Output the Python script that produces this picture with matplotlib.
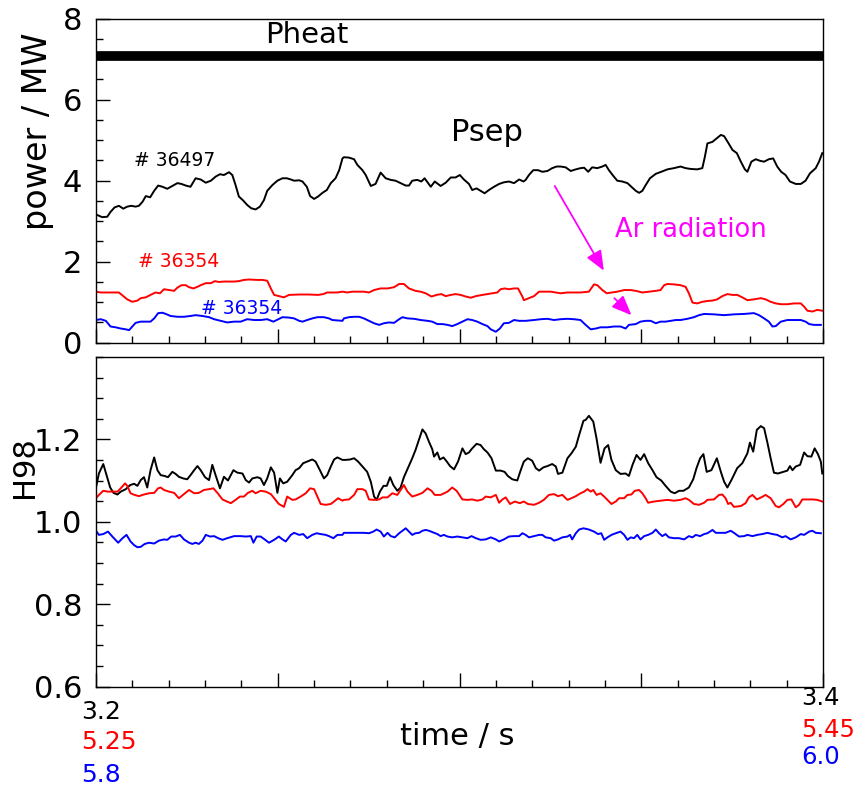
"""Psep and H98 for three shots, two stacked panels."""

import matplotlib

matplotlib.use("Agg")
import matplotlib.pyplot as plt
import numpy as np
from matplotlib.ticker import MultipleLocator

# time is given in ms from the start of each shot's 200 ms window
windows = {"36497": ("3.2", "3.4"), "36354a": ("5.25", "5.45"), "36354b": ("5.8", "6.0")}
colors = ["black", "red", "blue"]
pheat_level = 7.08

psep_black = [
    (0.4, 3.15), (1.7, 3.10), (3.1, 3.11), (4.0, 3.23), (5.1, 3.34), (6.3, 3.38), (7.5, 3.31), (8.6, 3.36),
    (9.7, 3.38), (10.9, 3.36), (11.8, 3.38), (12.8, 3.48), (13.7, 3.62), (14.9, 3.59), (16.0, 3.75), (17.1, 3.88),
    (18.3, 3.85), (19.6, 3.80), (21.0, 3.87), (22.4, 3.94), (23.5, 3.92), (24.7, 3.88), (26.0, 3.85), (27.4, 4.06),
    (28.8, 4.03), (30.2, 3.95), (31.6, 4.00), (32.9, 4.10), (34.1, 4.16), (35.2, 4.14), (36.6, 4.21), (37.5, 4.14),
    (38.4, 3.89), (39.3, 3.61), (40.5, 3.51), (41.6, 3.40), (42.7, 3.32), (43.9, 3.29), (45.1, 3.36), (46.2, 3.52),
    (47.1, 3.75), (48.5, 3.89), (49.9, 4.00), (51.3, 4.06), (52.5, 4.06), (53.6, 4.03), (54.5, 4.00), (55.9, 4.01),
    (56.8, 3.98), (58.0, 3.85), (58.9, 3.62), (60.0, 3.55), (61.1, 3.61), (62.3, 3.70), (63.5, 3.77), (64.6, 3.94),
    (65.9, 4.06), (66.9, 4.26), (67.8, 4.55), (68.2, 4.58), (69.6, 4.57), (71.0, 4.53), (71.9, 4.39), (73.3, 4.26),
    (74.2, 4.14), (75.6, 3.87), (76.9, 3.92), (78.3, 4.20), (79.7, 4.06), (81.1, 4.02), (82.4, 4.00), (83.8, 3.94),
    (85.2, 3.88), (86.1, 3.88), (87.0, 4.00), (88.4, 4.02), (89.5, 3.98), (90.4, 4.06), (92.1, 3.85), (93.2, 3.98),
    (94.8, 3.87), (96.2, 3.95), (97.6, 4.08), (98.9, 4.08), (100.1, 4.14), (101.2, 4.03), (102.6, 3.92), (103.5, 3.77),
    (104.7, 3.81), (105.8, 3.75), (106.9, 3.69), (108.1, 3.77), (109.5, 3.85), (110.9, 3.92), (112.2, 3.96),
    (113.6, 3.98), (115.0, 3.94), (116.4, 4.03), (117.6, 3.98), (118.2, 4.02), (119.1, 4.14), (120.3, 4.26),
    (121.6, 4.26), (122.8, 4.22), (124.2, 4.24), (125.5, 4.31), (126.7, 4.35), (127.8, 4.35), (129.2, 4.33),
    (130.6, 4.24), (132.0, 4.28), (133.3, 4.31), (134.3, 4.32), (135.4, 4.22), (136.5, 4.33), (137.9, 4.31),
    (139.3, 4.35), (140.2, 4.39), (141.1, 4.26), (142.3, 4.12), (143.4, 4.00), (144.8, 3.98), (146.2, 3.94),
    (147.3, 3.85), (148.5, 3.75), (149.4, 3.70), (150.3, 3.75), (151.2, 3.89), (152.4, 4.06), (154.0, 4.17),
    (155.5, 4.22), (157.2, 4.28), (159.0, 4.31), (160.8, 4.35), (162.2, 4.31), (163.6, 4.29), (165.4, 4.28),
    (166.8, 4.31), (167.5, 4.59), (168.2, 4.92), (169.6, 4.96), (170.8, 5.05), (171.9, 5.13), (172.8, 5.10),
    (173.9, 4.94), (175.1, 4.76), (176.3, 4.68), (177.4, 4.47), (178.5, 4.28), (179.2, 4.22), (180.3, 4.47),
    (181.5, 4.53), (182.7, 4.49), (183.8, 4.47), (185.1, 4.53), (186.3, 4.55), (187.4, 4.35), (188.5, 4.22),
    (189.7, 4.14), (190.9, 3.98), (192.5, 3.92), (193.9, 3.92), (195.2, 4.00), (196.4, 4.18), (198.0, 4.31),
    (198.9, 4.47), (199.8, 4.68),
]

psep_red = [
    (0.0, 1.26), (1.3, 1.24), (3.1, 1.24), (5.0, 1.24), (6.3, 1.24), (7.5, 1.15), (8.6, 1.07), (10.0, 1.01),
    (11.4, 1.04), (12.3, 1.10), (13.7, 1.12), (15.0, 1.18), (16.4, 1.24), (17.6, 1.22), (18.7, 1.32), (20.1, 1.30),
    (21.5, 1.28), (22.4, 1.36), (23.5, 1.42), (24.7, 1.42), (25.6, 1.37), (26.8, 1.34), (27.9, 1.38), (28.8, 1.42),
    (30.2, 1.47), (31.6, 1.47), (32.7, 1.52), (33.8, 1.50), (35.2, 1.51), (38.0, 1.51), (39.3, 1.52), (40.7, 1.55),
    (42.1, 1.56), (44.4, 1.55), (45.8, 1.55), (47.1, 1.53), (48.1, 1.34), (49.0, 1.18), (50.3, 1.15), (51.7, 1.12),
    (53.1, 1.18), (55.9, 1.19), (58.6, 1.19), (61.1, 1.18), (62.5, 1.20), (63.6, 1.24), (66.4, 1.24), (67.8, 1.26),
    (69.1, 1.24), (70.5, 1.26), (71.9, 1.26), (73.7, 1.26), (75.1, 1.24), (76.5, 1.30), (78.3, 1.34), (80.2, 1.34),
    (82.0, 1.37), (83.4, 1.45), (84.7, 1.45), (86.1, 1.34), (87.9, 1.28), (89.3, 1.26), (90.7, 1.22), (92.3, 1.14),
    (93.7, 1.18), (95.0, 1.20), (96.2, 1.15), (97.6, 1.18), (98.9, 1.20), (100.3, 1.18), (101.7, 1.14),
    (103.1, 1.11), (104.5, 1.15), (106.3, 1.18), (107.7, 1.20), (109.0, 1.22), (110.4, 1.24), (111.3, 1.32),
    (112.4, 1.34), (113.6, 1.32), (115.0, 1.34), (116.1, 1.34), (117.3, 1.14), (117.7, 1.05), (119.1, 1.10),
    (120.5, 1.15), (121.9, 1.26), (123.2, 1.26), (125.1, 1.26), (126.5, 1.24), (127.8, 1.22), (129.7, 1.24),
    (131.5, 1.24), (133.3, 1.24), (135.6, 1.26), (137.0, 1.44), (137.9, 1.42), (139.3, 1.30), (140.5, 1.22),
    (142.0, 1.24), (143.4, 1.26), (145.3, 1.30), (147.1, 1.30), (148.5, 1.28), (150.3, 1.24), (152.1, 1.26),
    (154.0, 1.28), (155.3, 1.30), (156.3, 1.42), (157.2, 1.45), (159.0, 1.44), (160.8, 1.42), (162.2, 1.38),
    (163.1, 1.22), (164.1, 0.99), (165.4, 0.97), (166.8, 1.01), (168.2, 1.03), (169.6, 1.04), (170.9, 1.07),
    (172.3, 1.15), (173.7, 1.20), (175.1, 1.18), (176.4, 1.18), (177.8, 1.12), (179.2, 1.05), (181.0, 1.07),
    (182.9, 1.10), (184.2, 1.07), (185.6, 1.01), (187.0, 0.97), (188.4, 0.95), (190.2, 0.95), (192.0, 0.97),
    (193.9, 0.97), (194.8, 0.89), (195.7, 0.79), (197.1, 0.77), (198.4, 0.81), (199.8, 0.79),
]

psep_blue = [
    (0.0, 0.56), (1.3, 0.58), (2.7, 0.54), (4.0, 0.40), (5.4, 0.38), (6.8, 0.35), (8.2, 0.33), (9.1, 0.31),
    (10.0, 0.40), (10.9, 0.49), (12.3, 0.52), (15.0, 0.52), (16.0, 0.60), (17.1, 0.73), (18.3, 0.74), (19.2, 0.71),
    (20.5, 0.66), (22.4, 0.64), (24.2, 0.64), (26.0, 0.66), (27.4, 0.68), (29.3, 0.66), (31.1, 0.63), (32.5, 0.58),
    (34.3, 0.54), (36.1, 0.50), (38.0, 0.52), (39.8, 0.52), (41.6, 0.58), (43.5, 0.56), (45.3, 0.56), (47.1, 0.58),
    (48.8, 0.52), (49.7, 0.56), (51.3, 0.63), (53.1, 0.62), (54.5, 0.60), (55.9, 0.54), (56.8, 0.52), (58.1, 0.56),
    (59.5, 0.60), (60.9, 0.63), (62.7, 0.63), (64.1, 0.60), (65.0, 0.56), (67.8, 0.54), (68.2, 0.60), (69.6, 0.63),
    (71.0, 0.64), (72.4, 0.64), (73.7, 0.60), (75.1, 0.54), (76.5, 0.48), (77.9, 0.44), (79.2, 0.48), (80.6, 0.50),
    (82.0, 0.49), (83.4, 0.58), (84.3, 0.63), (85.7, 0.60), (87.5, 0.59), (89.3, 0.56), (91.2, 0.54), (92.5, 0.52),
    (93.9, 0.46), (95.3, 0.46), (96.7, 0.44), (98.0, 0.41), (99.4, 0.46), (100.8, 0.52), (102.2, 0.58),
    (103.5, 0.56), (104.9, 0.52), (106.3, 0.46), (107.7, 0.41), (108.6, 0.33), (110.0, 0.27), (111.1, 0.35),
    (112.2, 0.48), (113.6, 0.49), (115.0, 0.56), (116.4, 0.54), (118.2, 0.54), (120.5, 0.56), (122.3, 0.58),
    (124.2, 0.59), (126.0, 0.56), (127.8, 0.58), (129.7, 0.59), (131.5, 0.58), (133.3, 0.56), (134.7, 0.44),
    (136.1, 0.33), (137.5, 0.35), (138.8, 0.38), (140.7, 0.38), (142.5, 0.40), (144.3, 0.40), (145.7, 0.35),
    (146.6, 0.44), (148.5, 0.46), (149.8, 0.52), (151.2, 0.54), (152.6, 0.54), (154.0, 0.48), (155.3, 0.52),
    (156.7, 0.52), (158.1, 0.54), (159.5, 0.56), (160.8, 0.56), (162.7, 0.59), (164.5, 0.63), (165.9, 0.68),
    (167.3, 0.71), (170.0, 0.70), (172.8, 0.68), (175.5, 0.70), (178.3, 0.71), (181.0, 0.73), (182.4, 0.68),
    (183.8, 0.60), (185.1, 0.52), (186.1, 0.40), (187.0, 0.41), (188.4, 0.52), (190.2, 0.56), (192.0, 0.56),
    (193.9, 0.56), (195.2, 0.52), (196.2, 0.46), (197.5, 0.44), (199.4, 0.44),
]

h98_black = [
    (0.0, 1.083), (0.8, 1.117), (2.0, 1.140), (2.9, 1.113), (3.9, 1.083), (4.8, 1.070), (5.9, 1.066), (6.8, 1.073),
    (8.2, 1.079), (9.4, 1.089), (10.5, 1.092), (11.4, 1.087), (12.3, 1.101), (13.2, 1.108), (14.1, 1.083),
    (15.0, 1.125), (16.0, 1.156), (16.9, 1.125), (17.8, 1.113), (18.9, 1.111), (19.8, 1.108), (21.0, 1.121),
    (21.9, 1.116), (22.8, 1.109), (24.0, 1.105), (25.1, 1.103), (26.0, 1.113), (27.0, 1.125), (27.9, 1.135),
    (28.8, 1.125), (30.0, 1.108), (31.1, 1.101), (32.0, 1.138), (32.9, 1.113), (34.1, 1.081), (35.2, 1.109),
    (36.3, 1.100), (37.8, 1.125), (38.9, 1.119), (40.3, 1.117), (41.2, 1.101), (42.1, 1.095), (43.0, 1.105),
    (44.4, 1.108), (45.3, 1.105), (46.2, 1.089), (47.1, 1.105), (48.1, 1.132), (49.0, 1.119), (49.9, 1.070),
    (50.6, 1.105), (51.5, 1.093), (52.6, 1.097), (54.0, 1.113), (54.9, 1.125), (55.9, 1.130), (57.0, 1.142),
    (58.1, 1.146), (59.5, 1.151), (60.4, 1.146), (61.6, 1.125), (62.7, 1.105), (63.6, 1.113), (64.6, 1.134),
    (65.5, 1.151), (66.4, 1.156), (67.8, 1.150), (68.7, 1.150), (69.9, 1.151), (71.0, 1.154), (72.1, 1.146),
    (73.3, 1.134), (74.6, 1.121), (75.6, 1.097), (76.5, 1.061), (77.2, 1.053), (78.1, 1.073), (79.1, 1.087),
    (80.0, 1.087), (80.9, 1.108), (81.8, 1.089), (82.9, 1.075), (83.8, 1.083), (84.7, 1.108), (85.8, 1.130),
    (87.0, 1.154), (87.9, 1.174), (88.9, 1.200), (89.8, 1.224), (90.7, 1.214), (91.6, 1.194), (92.5, 1.176),
    (93.0, 1.158), (93.9, 1.168), (94.6, 1.151), (95.6, 1.156), (96.5, 1.146), (97.4, 1.135), (98.5, 1.127),
    (99.6, 1.146), (100.8, 1.178), (101.7, 1.164), (102.6, 1.168), (103.5, 1.178), (104.7, 1.189), (105.8, 1.186),
    (106.7, 1.176), (107.7, 1.168), (108.8, 1.154), (110.0, 1.124), (111.3, 1.124), (112.4, 1.121),
    (113.3, 1.111), (114.5, 1.103), (115.9, 1.100), (116.8, 1.124), (117.7, 1.146), (118.8, 1.154),
    (120.0, 1.148), (121.0, 1.130), (121.9, 1.124), (123.1, 1.132), (124.2, 1.135), (125.5, 1.140),
    (126.5, 1.134), (127.1, 1.116), (128.3, 1.119), (129.7, 1.154), (130.8, 1.166), (132.0, 1.182),
    (132.9, 1.210), (134.1, 1.245), (134.7, 1.247), (135.6, 1.257), (136.8, 1.243), (137.7, 1.202),
    (138.8, 1.143), (139.9, 1.178), (140.9, 1.186), (141.8, 1.150), (143.0, 1.125), (144.3, 1.116),
    (145.7, 1.117), (146.6, 1.111), (147.6, 1.138), (148.7, 1.162), (149.8, 1.150), (150.8, 1.164),
    (151.9, 1.142), (153.1, 1.125), (154.2, 1.108), (155.5, 1.100), (156.7, 1.087), (158.1, 1.073),
    (159.2, 1.069), (160.4, 1.075), (161.6, 1.075), (163.1, 1.083), (164.3, 1.103), (165.2, 1.130),
    (166.2, 1.154), (167.1, 1.164), (168.0, 1.121), (169.3, 1.125), (170.8, 1.154), (171.9, 1.121),
    (172.8, 1.097), (173.7, 1.083), (174.8, 1.101), (176.4, 1.130), (177.8, 1.142), (179.2, 1.166),
    (179.9, 1.192), (180.8, 1.170), (181.8, 1.223), (182.9, 1.232), (183.8, 1.227), (184.7, 1.192),
    (185.6, 1.154), (186.5, 1.119), (187.6, 1.117), (189.1, 1.121), (190.2, 1.124), (190.9, 1.135),
    (191.6, 1.125), (192.5, 1.134), (193.7, 1.138), (194.8, 1.168), (195.7, 1.159), (196.8, 1.158),
    (197.7, 1.178), (198.6, 1.164), (199.4, 1.146), (199.8, 1.117),
]

h98_red = [
    (0.0, 1.057), (0.8, 1.065), (2.0, 1.075), (3.3, 1.073), (4.5, 1.073), (5.9, 1.073), (6.8, 1.081), (8.0, 1.093),
    (8.6, 1.087), (9.5, 1.069), (10.6, 1.065), (11.8, 1.062), (13.2, 1.066), (14.6, 1.069), (16.0, 1.070),
    (17.1, 1.081), (17.8, 1.083), (18.7, 1.077), (20.1, 1.073), (21.5, 1.070), (22.8, 1.057), (24.2, 1.067),
    (25.6, 1.077), (27.0, 1.069), (28.3, 1.070), (29.7, 1.077), (31.1, 1.079), (32.3, 1.081), (33.4, 1.070),
    (34.8, 1.054), (36.0, 1.049), (37.1, 1.045), (38.4, 1.053), (39.6, 1.061), (40.7, 1.061), (41.8, 1.070),
    (43.0, 1.075), (43.9, 1.069), (45.3, 1.075), (46.7, 1.073), (48.1, 1.067), (49.4, 1.053), (50.3, 1.043),
    (51.7, 1.036), (52.6, 1.061), (54.0, 1.053), (54.9, 1.054), (56.3, 1.061), (57.7, 1.069), (58.9, 1.081),
    (60.0, 1.079), (60.9, 1.061), (61.8, 1.043), (63.2, 1.041), (64.6, 1.043), (65.5, 1.049), (66.6, 1.057),
    (67.8, 1.051), (68.2, 1.053), (69.6, 1.054), (71.0, 1.065), (71.9, 1.079), (73.3, 1.079), (74.2, 1.075),
    (75.1, 1.054), (76.5, 1.053), (77.9, 1.054), (78.8, 1.059), (80.2, 1.059), (81.5, 1.069), (82.9, 1.065),
    (83.8, 1.077), (84.7, 1.089), (85.7, 1.073), (87.0, 1.061), (88.4, 1.065), (89.8, 1.070), (91.2, 1.081),
    (92.3, 1.075), (93.2, 1.065), (94.8, 1.065), (96.7, 1.073), (98.0, 1.083), (99.2, 1.075), (100.8, 1.054),
    (102.2, 1.053), (103.5, 1.054), (104.9, 1.051), (106.3, 1.054), (107.2, 1.061), (108.6, 1.059),
    (110.0, 1.065), (110.9, 1.046), (111.8, 1.054), (112.7, 1.059), (113.9, 1.043), (115.2, 1.049),
    (116.6, 1.045), (117.7, 1.049), (118.8, 1.043), (120.5, 1.041), (121.9, 1.046), (123.2, 1.053),
    (124.6, 1.065), (126.0, 1.067), (127.1, 1.062), (128.3, 1.065), (129.7, 1.053), (130.8, 1.057),
    (132.0, 1.062), (133.3, 1.069), (134.3, 1.073), (135.2, 1.079), (136.1, 1.073), (136.8, 1.077),
    (137.7, 1.065), (138.8, 1.069), (139.8, 1.061), (140.7, 1.053), (141.8, 1.043), (143.0, 1.049),
    (143.9, 1.057), (145.3, 1.057), (146.2, 1.065), (147.3, 1.066), (148.2, 1.075), (149.4, 1.077),
    (150.3, 1.069), (151.2, 1.057), (151.9, 1.046), (153.5, 1.049), (155.3, 1.051), (157.2, 1.053),
    (159.0, 1.051), (160.8, 1.053), (162.2, 1.057), (163.1, 1.053), (164.5, 1.043), (165.9, 1.041),
    (167.3, 1.046), (168.2, 1.053), (170.0, 1.054), (171.4, 1.065), (172.3, 1.066), (173.2, 1.057),
    (173.9, 1.043), (174.6, 1.046), (175.5, 1.036), (177.4, 1.038), (178.7, 1.045), (179.6, 1.059),
    (180.6, 1.065), (181.8, 1.054), (183.0, 1.059), (184.2, 1.065), (185.6, 1.057), (187.0, 1.038),
    (187.9, 1.035), (189.1, 1.043), (190.2, 1.053), (191.3, 1.054), (192.5, 1.035), (193.4, 1.041),
    (194.3, 1.054), (197.1, 1.054), (198.4, 1.053), (199.8, 1.049),
]

h98_blue = [
    (0.0, 0.978), (0.8, 0.968), (2.0, 0.970), (3.3, 0.976), (4.5, 0.964), (6.1, 0.949), (7.3, 0.960), (8.4, 0.968),
    (9.5, 0.952), (10.5, 0.943), (11.4, 0.938), (12.3, 0.939), (13.4, 0.946), (14.6, 0.949), (16.0, 0.947),
    (17.3, 0.954), (18.7, 0.957), (19.6, 0.956), (20.7, 0.964), (21.9, 0.964), (23.1, 0.968), (24.2, 0.957),
    (25.6, 0.949), (26.5, 0.946), (27.4, 0.949), (28.3, 0.946), (29.3, 0.954), (30.2, 0.968), (31.4, 0.964),
    (32.5, 0.965), (33.6, 0.960), (34.8, 0.956), (36.1, 0.960), (38.0, 0.965), (39.8, 0.965), (41.2, 0.964),
    (42.6, 0.965), (43.3, 0.949), (44.2, 0.964), (45.3, 0.964), (46.4, 0.957), (47.6, 0.949), (49.0, 0.956),
    (50.3, 0.964), (51.3, 0.957), (52.2, 0.952), (53.6, 0.968), (54.5, 0.973), (55.9, 0.968), (57.0, 0.970),
    (58.1, 0.960), (59.5, 0.968), (60.7, 0.972), (61.8, 0.970), (63.2, 0.968), (64.1, 0.965), (65.3, 0.960),
    (66.4, 0.968), (67.8, 0.968), (68.2, 0.973), (69.6, 0.973), (71.0, 0.973), (72.4, 0.973), (73.7, 0.973),
    (75.1, 0.972), (76.3, 0.976), (77.2, 0.981), (78.3, 0.976), (79.2, 0.964), (80.2, 0.973), (81.1, 0.965),
    (82.2, 0.962), (83.4, 0.972), (84.3, 0.978), (85.2, 0.984), (86.1, 0.976), (87.0, 0.968), (87.9, 0.972),
    (88.9, 0.973), (89.8, 0.978), (90.7, 0.980), (91.6, 0.978), (93.0, 0.973), (93.9, 0.970), (94.8, 0.965),
    (95.7, 0.968), (96.7, 0.964), (98.0, 0.962), (99.4, 0.964), (100.8, 0.962), (102.2, 0.960), (103.3, 0.965),
    (104.5, 0.960), (105.8, 0.956), (107.2, 0.957), (108.6, 0.962), (110.0, 0.957), (110.9, 0.952),
    (112.2, 0.957), (113.6, 0.964), (115.0, 0.965), (116.4, 0.965), (117.3, 0.972), (118.2, 0.968),
    (119.1, 0.962), (120.5, 0.965), (121.9, 0.968), (122.8, 0.968), (123.7, 0.962), (125.1, 0.960),
    (126.0, 0.954), (127.1, 0.957), (128.3, 0.962), (129.7, 0.964), (130.4, 0.968), (131.0, 0.957),
    (132.0, 0.972), (132.9, 0.981), (134.1, 0.984), (135.6, 0.981), (137.0, 0.976), (138.1, 0.970),
    (139.0, 0.972), (139.8, 0.956), (140.7, 0.962), (141.8, 0.968), (143.0, 0.972), (144.3, 0.976),
    (145.3, 0.968), (146.2, 0.956), (147.1, 0.962), (148.0, 0.960), (148.9, 0.968), (149.8, 0.957),
    (150.8, 0.965), (151.9, 0.968), (153.1, 0.973), (154.0, 0.981), (154.9, 0.972), (155.8, 0.965),
    (156.7, 0.970), (157.6, 0.962), (159.0, 0.960), (160.4, 0.960), (161.8, 0.957), (163.1, 0.965),
    (164.1, 0.962), (165.0, 0.968), (166.2, 0.965), (167.3, 0.970), (168.2, 0.972), (169.6, 0.980),
    (170.5, 0.973), (171.9, 0.973), (173.2, 0.973), (174.6, 0.978), (175.5, 0.973), (176.9, 0.964),
    (178.3, 0.965), (179.2, 0.968), (180.6, 0.965), (181.9, 0.968), (183.3, 0.970), (184.7, 0.973),
    (186.1, 0.970), (187.4, 0.968), (188.8, 0.962), (189.7, 0.965), (191.1, 0.957), (192.5, 0.962),
    (193.9, 0.970), (194.8, 0.968), (196.2, 0.976), (197.1, 0.978), (198.0, 0.973), (199.4, 0.972),
]

TEXT = 22
plt.rcParams["font.family"] = ["DejaVu Sans"]

fig = plt.figure(figsize=(8.58, 7.88), dpi=100)
W, H = 858, 788
ax1 = fig.add_axes([96 / W, 1 - 342.7 / H, 727 / W, 324 / H])
ax2 = fig.add_axes([96 / W, 1 - 686.5 / H, 727 / W, 329.6 / H])

for series, c in zip([psep_black, psep_red, psep_blue], colors):
    t, v = np.array(series).T
    ax1.plot(t, v, color=c, lw=1.4)
for series, c in zip([h98_black, h98_red, h98_blue], colors):
    t, v = np.array(series).T
    ax2.plot(t, v, color=c, lw=1.4)

ax1.axhline(pheat_level, color="black", lw=7)

ax1.set_ylim(0, 8)
ax2.set_ylim(0.6, 1.4)
ax1.yaxis.set_major_locator(MultipleLocator(2))
ax1.yaxis.set_minor_locator(MultipleLocator(0.5))
ax2.yaxis.set_major_locator(MultipleLocator(0.2))
ax2.yaxis.set_minor_locator(MultipleLocator(0.05))
ax2.set_yticks([0.6, 0.8, 1.0, 1.2])
ax2.set_yticklabels(["0.6", "0.8", "1.0", "1.2"])

for ax in (ax1, ax2):
    ax.set_xlim(0, 200)
    ax.xaxis.set_major_locator(MultipleLocator(50))
    ax.xaxis.set_minor_locator(MultipleLocator(10))
    ax.tick_params(which="both", direction="in", top=False, right=False, width=1, labelbottom=False)
    ax.tick_params(which="major", length=10)
    ax.tick_params(which="minor", length=5)
    ax.tick_params(axis="y", labelsize=TEXT, pad=10)
    for s in ax.spines.values():
        s.set_linewidth(1.0)

# annotations
ax1.text(58, 7.6, "Pheat", fontsize=21, ha="center", va="center")
ax1.text(107.6, 5.2, "Psep", fontsize=22, ha="center", va="center")
ax1.text(21.5, 4.51, "# 36497", fontsize=13.5, ha="center", va="center", color="black")
ax1.text(22.8, 2.0, "# 36354", fontsize=13.5, ha="center", va="center", color="red")
ax1.text(40.1, 0.85, "# 36354", fontsize=13.5, ha="center", va="center", color="blue")
ax1.text(163.6, 2.78, "Ar radiation", fontsize=18.5, ha="center", va="center", color="magenta")

arrow = dict(arrowstyle="-|>,head_length=0.6,head_width=0.25", color="magenta", lw=1.3,
             mutation_scale=20, shrinkA=0, shrinkB=0)
ax1.annotate("", xy=(139.7, 1.78), xytext=(126.2, 3.87), arrowprops=arrow)
ax1.annotate("", xy=(147.3, 0.68), xytext=(142.6, 1.10), arrowprops=arrow)

# axis labels
fig.text(38 / W, 1 - 131 / H, "power / MW", rotation=90, fontsize=24, ha="center", va="center")
fig.text(24 / W, 1 - 467 / H, "H98", rotation=90, fontsize=22, ha="center", va="center")
fig.text(457 / W, 1 - 737 / H, "time / s", fontsize=TEXT, ha="center", va="center")

# start / end time of each shot window, in the shot colours
starts = [w[0] for w in windows.values()]
ends = [w[1] for w in windows.values()]
for label, c, y in zip(starts, colors, [712, 742, 775]):
    fig.text(81 / W, 1 - y / H, label, fontsize=18, color=c, ha="left", va="center")
for label, c, y in zip(ends, colors, [698, 730, 757]):
    fig.text(801 / W, 1 - y / H, label, fontsize=17.5, color=c, ha="left", va="center")

fig.savefig("out.png", dpi=100)
plt.close(fig)
